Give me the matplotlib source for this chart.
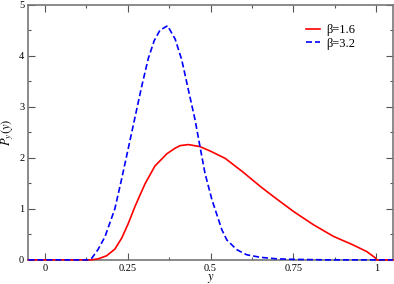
import numpy as np
import matplotlib.pyplot as plt
from matplotlib.ticker import MultipleLocator, FuncFormatter

plt.rcParams['font.family'] = ['Liberation Serif', 'DejaVu Serif']
plt.rcParams['mathtext.fontset'] = 'stix'

# beta = 1.6
y_a = [-0.05, 0.0, 0.10, 0.14, 0.161, 0.186, 0.211, 0.232, 0.252, 0.272,
       0.302, 0.332, 0.368, 0.393, 0.408, 0.433, 0.468, 0.50, 0.544,
       0.598, 0.65, 0.69, 0.75, 0.81, 0.871, 0.931, 0.972, 0.997, 1.0, 1.05]
p_a = [0, 0, 0, 0.0, 0.02, 0.08, 0.21, 0.43, 0.72, 1.05,
       1.49, 1.84, 2.08, 2.19, 2.24, 2.26, 2.22, 2.13, 1.99,
       1.72, 1.44, 1.24, 0.95, 0.69, 0.46, 0.29, 0.16, 0.04, 0.0, 0]

# beta = 3.2
y_b = [-0.05, 0.0, 0.10, 0.13, 0.141, 0.16, 0.181, 0.211, 0.232, 0.257,
       0.277, 0.292, 0.312, 0.33, 0.347, 0.37, 0.393, 0.413, 0.433, 0.453,
       0.468, 0.483, 0.504, 0.534, 0.549, 0.579, 0.609, 0.65, 0.70, 0.75,
       0.85, 1.05]
p_b = [0, 0, 0, 0.0, 0.03, 0.2, 0.45, 1.0, 1.6, 2.35,
       2.95, 3.4, 3.95, 4.3, 4.5, 4.59, 4.33, 3.92, 3.33, 2.75,
       2.22, 1.70, 1.18, 0.59, 0.39, 0.20, 0.10, 0.05, 0.02, 0.01,
       0.0, 0]

fig = plt.figure(figsize=(3.94, 2.84), dpi=100)
ax = fig.add_axes([0.072, 0.085, 0.925, 0.898])

ax.plot(y_a, p_a, color='#ff0000', lw=1.2, label='β=1.6',
        clip_on=False, zorder=3)
ax.plot(y_b, p_b, color='#0000ff', lw=1.2, dashes=(3.6, 1.8), label='β=3.2',
        clip_on=False, zorder=3)

ax.set_xlim(-0.05, 1.05)
ax.set_ylim(0, 5)
ax.xaxis.set_major_locator(MultipleLocator(0.25))
ax.xaxis.set_minor_locator(MultipleLocator(0.125))
ax.yaxis.set_major_locator(MultipleLocator(1))
ax.yaxis.set_minor_locator(MultipleLocator(0.5))
ax.xaxis.set_major_formatter(FuncFormatter(lambda v, p: '%g' % v))

ax.tick_params(which='both', direction='in', top=True, right=True,
               labelsize=7.5, color='#555555', pad=3)
ax.tick_params(which='major', length=5, width=0.8)
ax.tick_params(which='minor', length=2.5, width=0.8)
for s in ax.spines.values():
    s.set_color('#777777')
    s.set_linewidth(1.2)

ax.set_xlabel('$y$', fontsize=9, labelpad=-1)
ax.set_ylabel('$P_y(y)$', fontsize=9, labelpad=2)

ax.legend(loc='upper left', bbox_to_anchor=(0.762, 0.925), frameon=False,
          fontsize=9, handlelength=1.15, borderpad=0, borderaxespad=0,
          labelspacing=0.15, handletextpad=0.5)

fig.savefig('out.png', dpi=100)
